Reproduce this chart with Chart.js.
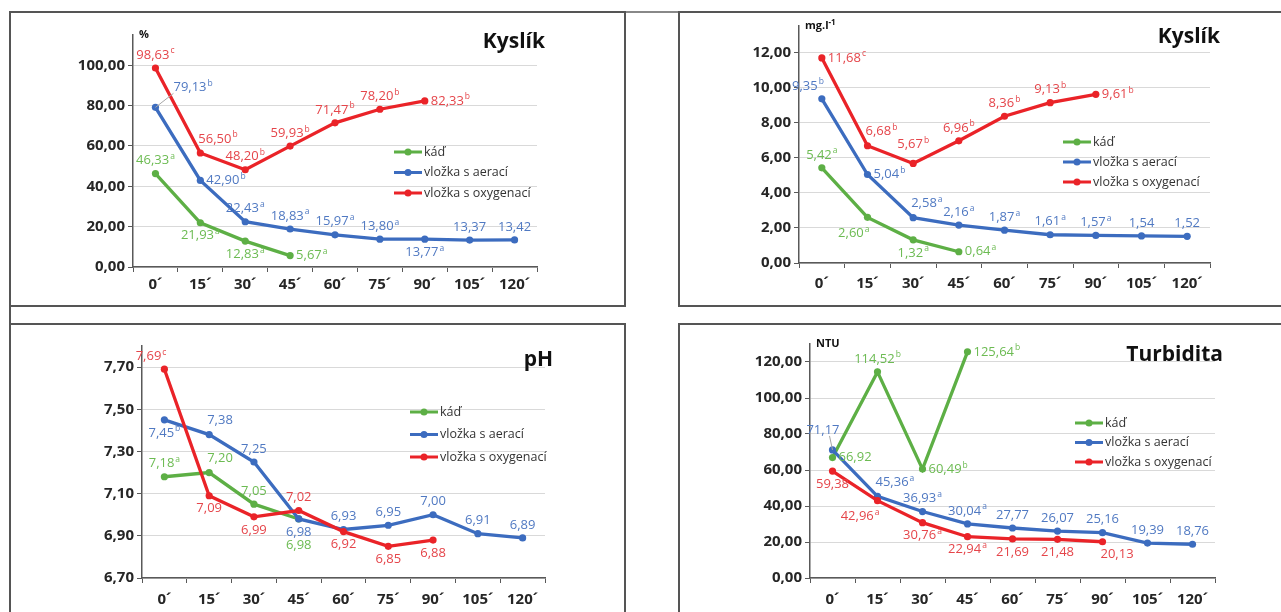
<!DOCTYPE html>
<html lang="cs">
<head>
<meta charset="UTF-8" />
<title>Kyslík, pH, Turbidita</title>
<script src="https://cdn.jsdelivr.net/npm/chart.js"></script>
<style>
  body { margin: 0; width: 1281px; height: 612px; overflow: hidden; position: relative; background: #fff; font-family: 'Open Sans', sans-serif; }
  .panel { position: absolute; box-sizing: border-box; border: 2px solid #555; }
  .bar { position: absolute; }
  canvas { position: absolute; }
</style>
</head>
<body>

<div class="panel" style="left:9px;top:11px;width:617px;height:296px"></div>
<div class="panel" style="left:678px;top:11px;width:620px;height:296px"></div>
<div class="panel" style="left:9px;top:323px;width:617px;height:300px"></div>
<div class="panel" style="left:678px;top:323px;width:620px;height:300px"></div>
<div class="bar" style="left:626px;top:11px;width:52px;height:2px;background:#888"></div>
<div class="bar" style="left:9px;top:307px;width:2px;height:16px;background:#555"></div>

<canvas id="c1" width="615" height="294" style="left:10px;top:12px"></canvas>
<canvas id="c2" width="602" height="294" style="left:679px;top:12px"></canvas>
<canvas id="c3" width="615" height="288" style="left:10px;top:324px"></canvas>
<canvas id="c4" width="602" height="288" style="left:679px;top:324px"></canvas>

<script>
const times = ['0´', '15´', '30´', '45´', '60´', '75´', '90´', '105´', '120´'];
const names = ['káď', 'vložka s aerací', 'vložka s oxygenací'];

// kyslík (%)
const o2pKad = [46.33, 21.93, 12.83, 5.67, null, null, null, null, null];
const o2pAer = [79.13, 42.90, 22.43, 18.83, 15.97, 13.80, 13.77, 13.37, 13.42];
const o2pOxy = [98.63, 56.50, 48.20, 59.93, 71.47, 78.20, 82.33, null, null];
const o2pKadSup = ['a', 'a', 'a', 'a'];
const o2pAerSup = ['b', 'b', 'a', 'a', 'a', 'a', 'a', '', ''];
const o2pOxySup = ['c', 'b', 'b', 'b', 'b', 'b', 'b'];
const o2pTicks = [0, 20, 40, 60, 80, 100];

// kyslík (mg/l)
const o2mKad = [5.42, 2.60, 1.32, 0.64, null, null, null, null, null];
const o2mAer = [9.35, 5.04, 2.58, 2.16, 1.87, 1.61, 1.57, 1.54, 1.52];
const o2mOxy = [11.68, 6.68, 5.67, 6.96, 8.36, 9.13, 9.61, null, null];
const o2mKadSup = ['a', 'a', 'a', 'a'];
const o2mAerSup = ['b', 'b', 'a', 'a', 'a', 'a', 'a', '', ''];
const o2mOxySup = ['c', 'b', 'b', 'b', 'b', 'b', 'b'];
const o2mTicks = [0, 2, 4, 6, 8, 10, 12];

// pH
const phKad = [7.18, 7.20, 7.05, 6.98, null, null, null, null, null];
const phAer = [7.45, 7.38, 7.25, 6.98, 6.93, 6.95, 7.00, 6.91, 6.89];
const phOxy = [7.69, 7.09, 6.99, 7.02, 6.92, 6.85, 6.88, null, null];
const phKadSup = ['a'];
const phAerSup = ['b'];
const phOxySup = ['c'];
const phTicks = [6.7, 6.9, 7.1, 7.3, 7.5, 7.7];

// turbidita (NTU)
const turKad = [66.92, 114.52, 60.49, 125.64, null, null, null, null, null];
const turAer = [71.17, 45.36, 36.93, 30.04, 27.77, 26.07, 25.16, 19.39, 18.76];
const turOxy = [59.38, 42.96, 30.76, 22.94, 21.69, 21.48, 20.13, null, null];
const turKadSup = ['', 'b', 'b', 'b'];
const turAerSup = ['', 'a', 'a', 'a'];
const turOxySup = ['', 'a', 'a', 'a'];
const turTicks = [0, 20, 40, 60, 80, 100, 120];

// where each value label sits around its point
const o2pKadPos = ['t', 'b', 'b', 'r'];
const o2pAerPos = ['TR', 'r', 't', 't', 't', 't', 'b', 't', 't'];
const o2pOxyPos = ['t', 'tr', 't', 't', 't', 't', 'r'];
const o2mKadPos = ['t', 'bl', 'b', 'r'];
const o2mAerPos = ['tl', 'r', 'tr', 't', 't', 't', 't', 't', 't'];
const o2mOxyPos = ['r', 'tr', 'T', 't', 't', 't', 'r'];
const phKadPos = ['t', 'tr', 't', 'B'];
const phAerPos = ['b', 'tr', 't', 'b', 't', 't', 't', 't', 't'];
const phOxyPos = ['tl', 'b', 'b', 't', 'b', 'b', 'b'];
const turKadPos = ['r', 't', 'r', 'r'];
const turAerPos = ['TL', 'tr', 't', 't', 't', 't', 't', 't', 't'];
const turOxyPos = ['b', 'bl', 'b', 'b', 'b', 'b', 'br'];

const colors = [
  { line: '#5daf45', text: '#6cbb52' },
  { line: '#3c6cbf', text: '#5079c2' },
  { line: '#ea2328', text: '#e5454a' }
];
const FONT = '"Open Sans", sans-serif';

function fmt(v, d) { return v.toFixed(d).replace('.', ','); }

function place(code, x, y, w) {
  switch (code) {
    case 't': return { x: x - w / 2, y: y - 13 };
    case 'T': return { x: x - w / 2, y: y - 19 };
    case 'b': return { x: x - w / 2, y: y + 13 };
    case 'B': return { x: x - w / 2, y: y + 26 };
    case 'r': return { x: x + 6, y: y };
    case 'l': return { x: x - 6 - w, y: y };
    case 'tr': return { x: x - 2, y: y - 14 };
    case 'tl': return { x: x + 2 - w, y: y - 13 };
    case 'br': return { x: x - 2, y: y + 13 };
    case 'bl': return { x: x + 2 - w, y: y + 16 };
    case 'TR': return { x: x + 18, y: y - 20, lead: true };
    case 'TL': return { x: x + 7 - w, y: y - 20, lead: true };
  }
  return { x: x - w / 2, y: y - 13 };
}

const valueLabels = {
  id: 'valueLabels',
  afterDatasetsDraw(chart) {
    const ctx = chart.ctx;
    ctx.save();
    ctx.textBaseline = 'middle';
    ctx.textAlign = 'left';
    chart.data.datasets.forEach((ds, i) => {
      const meta = chart.getDatasetMeta(i);
      meta.data.forEach((pt, j) => {
        const v = ds.data[j];
        if (v == null) return;
        const txt = fmt(v, 2);
        const sup = ds.sup[j] || '';
        ctx.font = '13px ' + FONT;
        const w1 = ctx.measureText(txt).width;
        ctx.font = '8.5px ' + FONT;
        const w2 = sup ? ctx.measureText(sup).width + 1 : 0;
        const p = place(ds.pos[j], pt.x, pt.y, w1 + w2);
        if (p.lead) {
          ctx.strokeStyle = '#a6a6a6';
          ctx.lineWidth = 1;
          ctx.beginPath();
          ctx.moveTo(pt.x, pt.y);
          ctx.lineTo(p.x < pt.x ? pt.x - 3 : p.x, p.y + 6);
          ctx.stroke();
        }
        ctx.fillStyle = ds.labelColor;
        ctx.font = '13px ' + FONT;
        ctx.fillText(txt, p.x, p.y);
        if (sup) {
          ctx.font = '8.5px ' + FONT;
          ctx.fillText(sup, p.x + w1 + 1, p.y - 4);
        }
      });
    });
    ctx.restore();
  }
};

const panelDeco = {
  id: 'panelDeco',
  afterDraw(chart, args, o) {
    const ctx = chart.ctx;
    const a = chart.chartArea;
    ctx.save();
    ctx.textBaseline = 'middle';
    ctx.fillStyle = '#111';
    ctx.font = 'bold 21px ' + FONT;
    ctx.textAlign = 'right';
    ctx.fillText(o.title, o.titleX, o.titleY);
    if (o.unit) {
      ctx.textAlign = 'left';
      ctx.font = 'bold 11px ' + FONT;
      ctx.fillText(o.unit[0], a.left + 6, a.top);
      if (o.unit[1]) {
        const w = ctx.measureText(o.unit[0]).width;
        ctx.font = 'bold 8px ' + FONT;
        ctx.fillText(o.unit[1], a.left + 6 + w, a.top - 3);
      }
    }
    ctx.textAlign = 'left';
    chart.data.datasets.forEach((ds, i) => {
      const y = o.legendY + i * o.legendGap;
      ctx.strokeStyle = ds.borderColor;
      ctx.lineWidth = 3;
      ctx.beginPath();
      ctx.moveTo(o.legendX, y);
      ctx.lineTo(o.legendX + 28, y);
      ctx.stroke();
      ctx.fillStyle = ds.borderColor;
      ctx.beginPath();
      ctx.arc(o.legendX + 14, y, 3.5, 0, Math.PI * 2);
      ctx.fill();
      ctx.fillStyle = '#333';
      ctx.font = '12.5px ' + FONT;
      ctx.fillText(ds.label, o.legendX + 30, y);
    });
    ctx.restore();
  }
};

function series(i, data, sup, pos) {
  return {
    label: names[i],
    data: data,
    sup: sup,
    pos: pos,
    labelColor: colors[i].text,
    borderColor: colors[i].line,
    backgroundColor: colors[i].line,
    pointBackgroundColor: colors[i].line,
    pointBorderWidth: 0,
    pointRadius: 3.6,
    borderWidth: 3.3,
    tension: 0,
    order: 2 - i
  };
}

function makeChart(id, sets, cfg) {
  const tickFont = { family: 'Open Sans', weight: 'bold', size: 15 };
  new Chart(document.getElementById(id), {
    type: 'line',
    data: { labels: times, datasets: sets },
    options: {
      responsive: false,
      animation: false,
      events: [],
      layout: { autoPadding: false, padding: { left: 0, bottom: 0, top: cfg.top, right: cfg.right } },
      plugins: {
        legend: { display: false },
        tooltip: { enabled: false },
        panelDeco: cfg.deco
      },
      scales: {
        x: {
          offset: true,
          ticks: { color: '#262626', font: tickFont, padding: cfg.xPad, autoSkip: false, maxRotation: 0 },
          grid: { drawOnChartArea: false, offset: true, tickLength: 5, tickColor: '#595959' },
          border: { color: '#595959', width: 1.5 },
          afterFit: ax => { ax.height = cfg.xH; }
        },
        y: {
          min: cfg.min,
          max: cfg.max,
          afterBuildTicks: ax => { ax.ticks = cfg.ticks.map(v => ({ value: v })); },
          ticks: { color: '#262626', font: tickFont, padding: 3, callback: v => fmt(v, 2) },
          grid: { color: '#d9d9d9', lineWidth: 1, tickLength: 5, tickColor: '#595959' },
          border: { color: '#595959', width: 1.5 },
          afterFit: ax => { ax.width = cfg.yW; }
        }
      }
    },
    plugins: [valueLabels, panelDeco]
  });
}

makeChart('c1', [
  series(0, o2pKad, o2pKadSup, o2pKadPos),
  series(1, o2pAer, o2pAerSup, o2pAerPos),
  series(2, o2pOxy, o2pOxySup, o2pOxyPos)
], {
  top: 23, right: 88, yW: 123, xH: 39, xPad: 4, min: 0, max: 115, ticks: o2pTicks,
  deco: { title: 'Kyslík', titleX: 535, titleY: 30, unit: ['%'], legendX: 384, legendY: 140, legendGap: 20.5 }
});

makeChart('c2', [
  series(0, o2mKad, o2mKadSup, o2mKadPos),
  series(1, o2mAer, o2mAerSup, o2mAerPos),
  series(2, o2mOxy, o2mOxySup, o2mOxyPos)
], {
  top: 14, right: 71, yW: 120, xH: 43, xPad: 7, min: 0, max: 13.5, ticks: o2mTicks,
  deco: { title: 'Kyslík', titleX: 541, titleY: 25, unit: ['mg.l', '-1'], legendX: 384, legendY: 130, legendGap: 20 }
});

makeChart('c3', [
  series(0, phKad, phKadSup, phKadPos),
  series(1, phAer, phAerSup, phAerPos),
  series(2, phOxy, phOxySup, phOxyPos)
], {
  top: 22, right: 80, yW: 132, xH: 34, xPad: 8, min: 6.7, max: 7.8, ticks: phTicks,
  deco: { title: 'pH', titleX: 543, titleY: 36, unit: null, legendX: 400, legendY: 88, legendGap: 22.5 }
});

makeChart('c4', [
  series(0, turKad, turKadSup, turKadPos),
  series(1, turAer, turAerSup, turAerPos),
  series(2, turOxy, turOxySup, turOxyPos)
], {
  top: 20, right: 66, yW: 131, xH: 34, xPad: 8, min: 0, max: 130, ticks: turTicks,
  deco: { title: 'Turbidita', titleX: 544, titleY: 31, unit: ['NTU'], legendX: 396, legendY: 99, legendGap: 19.5 }
});
</script>

</body>
</html>
